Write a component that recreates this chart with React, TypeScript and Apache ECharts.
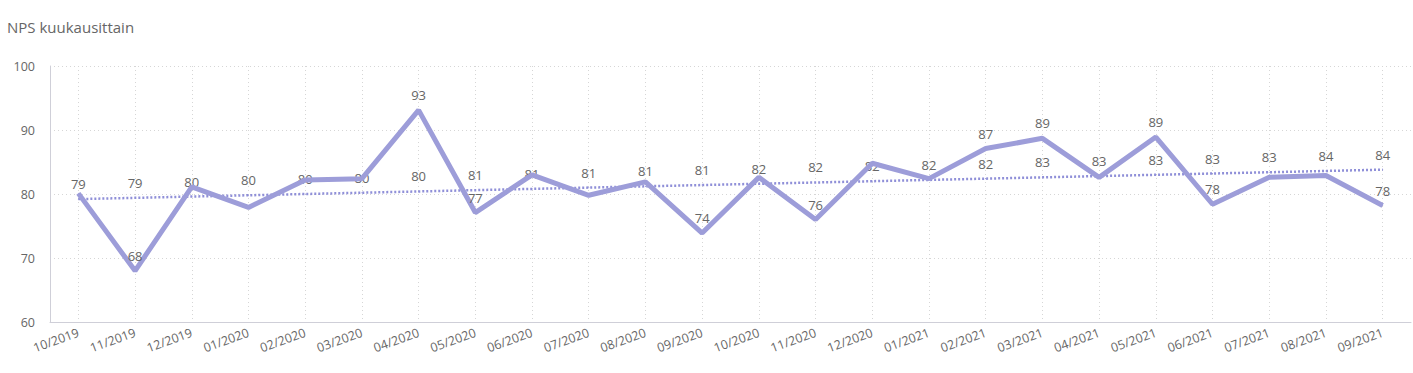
import React, { useEffect, useRef } from "react";
import * as echarts from "echarts";

const months = [
  "10/2019", "11/2019", "12/2019", "01/2020", "02/2020", "03/2020", "04/2020", "05/2020",
  "06/2020", "07/2020", "08/2020", "09/2020", "10/2020", "11/2020", "12/2020", "01/2021",
  "02/2021", "03/2021", "04/2021", "05/2021", "06/2021", "07/2021", "08/2021", "09/2021",
];
const npsValues = [
  80.1, 68.0, 81.1, 77.9, 82.2, 82.4, 93.1, 77.1,
  83.0, 79.8, 81.9, 73.9, 82.6, 76.0, 84.8, 82.4,
  87.1, 88.7, 82.6, 88.9, 78.4, 82.6, 82.9, 78.2,
];
const trendValues = [
  79.2, 79.4, 79.6, 79.8, 80.0, 80.2, 80.4, 80.6,
  80.8, 81.0, 81.2, 81.4, 81.6, 81.8, 82.0, 82.2,
  82.4, 82.6, 82.8, 83.0, 83.2, 83.4, 83.6, 83.8,
];
const yTicks = { min: 60, max: 100, interval: 10 };
const titleText = "NPS kuukausittain";

const FONT = "'Open Sans', 'Noto Sans', sans-serif";
const TEXT = "#666666";

export default function App() {
  const ref = useRef<HTMLDivElement>(null);
  useEffect(() => {
    if (!ref.current) return;
    const chart = echarts.init(ref.current, null, { renderer: "svg" });
    chart.setOption({
      animation: false,
      textStyle: { fontFamily: FONT },
      title: {
        text: titleText,
        left: 2,
        top: 14,
        textStyle: { fontFamily: FONT, fontSize: 15, fontWeight: "normal", color: TEXT },
      },
      grid: { left: 50, right: 2, top: 66, bottom: 51, containLabel: false },
      xAxis: {
        type: "category",
        data: months,
        boundaryGap: true,
        axisLine: { show: true, lineStyle: { color: "#cfcfd8", width: 1 } },
        axisTick: { show: false },
        axisLabel: {
          rotate: 20,
          color: TEXT,
          fontSize: 12.5,
          fontFamily: FONT,
          margin: 10,
          interval: 0,
        },
        splitLine: {
          show: true,
          alignWithLabel: true,
          lineStyle: { type: [1, 3], color: "#d6d6d6", width: 1 },
        },
      },
      yAxis: {
        type: "value",
        min: yTicks.min,
        max: yTicks.max,
        interval: yTicks.interval,
        axisLine: { show: true, lineStyle: { color: "#cfcfd8", width: 1 } },
        axisTick: { show: false },
        axisLabel: { color: TEXT, fontSize: 12.5, fontFamily: FONT, margin: 15 },
        splitLine: { show: true, lineStyle: { type: [1, 3], color: "#d6d6d6", width: 1 } },
      },
      series: [
        {
          name: "Trendi",
          type: "line",
          data: trendValues,
          symbol: "circle",
          symbolSize: 1,
          itemStyle: { color: "#8f8fd8" },
          lineStyle: { color: "#8f8fd8", width: 2.5, type: [2, 2] },
          label: {
            show: true,
            position: "top",
            distance: 8,
            color: TEXT,
            fontSize: 13,
            fontFamily: FONT,
            formatter: (p: any) => String(Math.round(p.value)),
          },
          z: 2,
        },
        {
          name: "NPS",
          type: "line",
          data: npsValues,
          symbol: "circle",
          symbolSize: 1,
          itemStyle: { color: "#9d9dd9" },
          lineStyle: { color: "#9d9dd9", width: 5 },
          label: {
            show: true,
            position: "top",
            distance: 8,
            color: TEXT,
            fontSize: 13,
            fontFamily: FONT,
            formatter: (p: any) =>
              Math.abs(p.value - trendValues[p.dataIndex]) >= 3 ? String(Math.round(p.value)) : "",
          },
          z: 3,
        },
      ],
    });
    return () => chart.dispose();
  }, []);
  return (
    <div
      ref={ref}
      style={{ position: "fixed", left: 0, top: 0, width: 1413, height: 373, background: "#fff" }}
    />
  );
}
